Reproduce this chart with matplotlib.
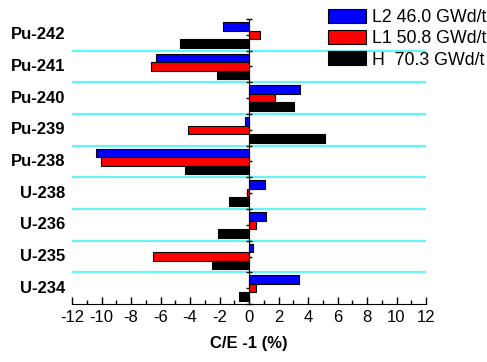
import matplotlib
matplotlib.use("Agg")
import matplotlib.pyplot as plt
import matplotlib.transforms as mtransforms
import numpy as np

plt.rcParams['font.family'] = ['Liberation Sans', 'DejaVu Sans']
plt.rcParams['axes.unicode_minus'] = False

isotopes = ["Pu-242", "Pu-241", "Pu-240", "Pu-239", "Pu-238",
            "U-238", "U-236", "U-235", "U-234"]
l2_46 = [-1.74, -6.33, 3.47, -0.27, -10.34, 1.06, 1.17, 0.25, 3.36]
l1_50 = [0.74, -6.64, 1.74, -4.12, -10.05, -0.12, 0.45, -6.50, 0.45]
h_70 = [-4.66, -2.16, 3.06, 5.16, -4.35, -1.35, -2.07, -2.48, -0.68]

series = [
    (l2_46, "blue", "L2 46.0 GWd/t"),
    (l1_50, "red", "L1 50.8 GWd/t"),
    (h_70, "black", "H  70.3 GWd/t"),
]

fig = plt.figure(figsize=(4.87, 3.62), dpi=100)
ax = fig.add_axes([72/487, 1-304/362, (426-72)/487, (304-19)/362])

y = np.arange(len(isotopes))
bh = 0.27
for k, (vals, col, lab) in enumerate(series):
    ax.barh(y + (k - 1) * 0.267, vals, height=bh, color=col,
            edgecolor="black", linewidth=0.8, label=lab, zorder=3)

# cyan separators between isotopes
for b in np.arange(0.5, len(isotopes) - 0.5, 1.0):
    ax.axhline(b, color="#66f5f5", lw=1.6, zorder=1)

ax.set_xlim(-12, 12)
ax.set_ylim(len(isotopes) - 0.5, -0.5)

ax.spines["top"].set_visible(False)
ax.spines["right"].set_visible(False)
ax.spines["left"].set_position(("data", 0))
ax.spines["left"].set_zorder(4)

ax.set_xticks(np.arange(-12, 13, 2))
ax.set_xticks(np.arange(-11, 12, 2), minor=True)
ax.tick_params(axis="x", which="major", direction="in", length=5, width=1,
               labelsize=12, pad=4)
ax.tick_params(axis="x", which="minor", direction="in", length=3, width=1)

ax.set_yticks(np.arange(-0.5, len(isotopes), 1.0))
ax.set_yticks(np.arange(0, len(isotopes), 1.0), minor=True)
ax.tick_params(axis="y", which="both", direction="inout", length=5, width=1,
               labelleft=False)

trans = mtransforms.blended_transform_factory(ax.transAxes, ax.transData)
for i, name in enumerate(isotopes):
    ax.text(-0.02, i, name, transform=trans, ha="right", va="center",
            fontsize=12, fontweight="bold")

ax.set_xlabel("C/E -1 (%)", fontsize=12, fontweight="bold", labelpad=8)

fig.legend(loc="upper left", bbox_to_anchor=(328/487, 1-9/362), frameon=False,
           fontsize=12.8, handlelength=2.15, handleheight=0.85, handletextpad=0.3,
           labelspacing=0.22, borderpad=0, borderaxespad=0)

fig.savefig("out.png", dpi=100)
